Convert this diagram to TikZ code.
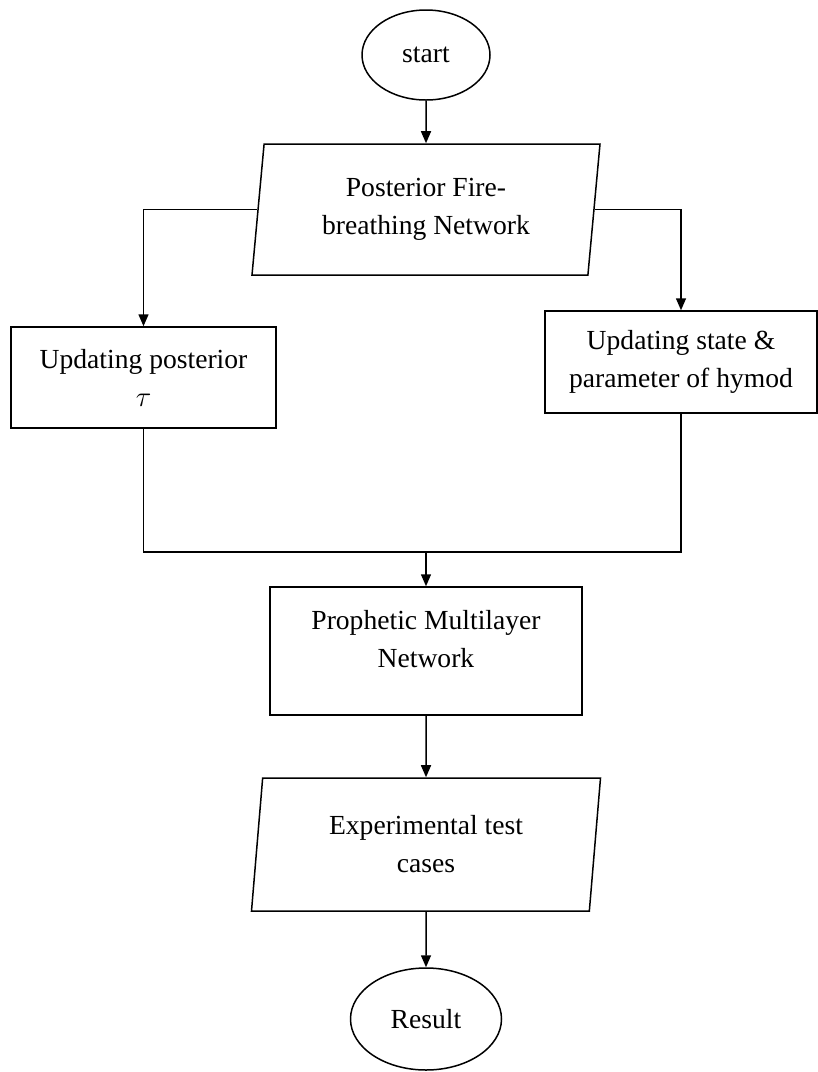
\documentclass[tikz,border=0pt]{standalone}
\usepackage{fontspec}
\setmainfont{Liberation Serif}
\usepackage{tikz}
\usetikzlibrary{arrows.meta,positioning,calc,shapes.geometric}

\begin{document}
\begin{tikzpicture}[x=0.5pt,y=-0.5pt,line width=0.75pt,
  >={Triangle[length=6pt,width=5pt]},
  every node/.style={font=\fontsize{13.8}{19}\selectfont,align=center},
  term/.style={draw,ellipse,inner sep=0pt},
  iobox/.style={draw,trapezium,trapezium left angle=79,trapezium right angle=101,
    trapezium stretches body,inner sep=0pt},
  procbox/.style={draw,rectangle,inner sep=0pt}]
\useasboundingbox (0,0) rectangle (818,1072);
\node[term,minimum width=64pt,minimum height=45pt] (start) at (426,55) {start};
\node[iobox,minimum width=174pt,minimum height=65.5pt] (post) at (426,209.5) {Posterior Fire-\\breathing Network};
\node[procbox,minimum width=132.5pt,minimum height=50.5pt] (upd) at (143.5,377.5) {Updating posterior\\$\tau$};
\node[procbox,minimum width=136pt,minimum height=51pt] (state) at (681,362) {Updating state \&\\parameter of hymod};
\coordinate (join) at (426,552);
\node[procbox,minimum width=156pt,minimum height=64pt,text depth=12pt] (proph) at (426,651) {Prophetic Multilayer\\Network};
\node[iobox,minimum width=174.5pt,minimum height=66.5pt] (exp) at (426,844.5) {Experimental test\\cases};
\node[term,minimum width=75.5pt,minimum height=51pt] (res) at (426,1019) {Result};
\draw[->] (start) -- (post);
\draw[->] (post.left side) -| (upd.north);
\draw[->] (post.right side) -| (state.north);
\draw (upd.south) |- (join) -| (state.south);
\draw[->] (join) -- (proph.north);
\draw[->] (proph) -- (exp);
\draw[->] (exp) -- (res);
\end{tikzpicture}
\end{document}
